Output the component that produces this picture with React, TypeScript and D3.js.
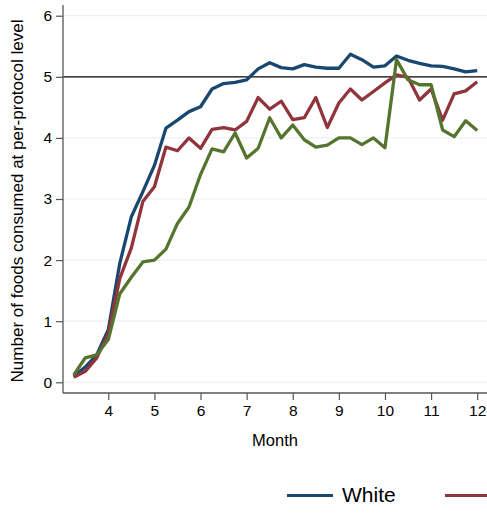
import React, { useEffect, useRef } from 'react';
import * as d3 from 'd3';

const months = [
  3.25, 3.5, 3.75, 4, 4.25, 4.5, 4.75, 5, 5.25, 5.5, 5.75, 6,
  6.25, 6.5, 6.75, 7, 7.25, 7.5, 7.75, 8, 8.25, 8.5, 8.75, 9,
  9.25, 9.5, 9.75, 10, 10.25, 10.5, 10.75, 11, 11.25, 11.5, 11.75, 12,
];

const white = [
  0.1, 0.25, 0.45, 0.86, 1.95, 2.71, 3.12, 3.55, 4.16, 4.29, 4.43, 4.51,
  4.8, 4.89, 4.91, 4.95, 5.13, 5.23, 5.15, 5.13, 5.2, 5.16, 5.14, 5.14,
  5.37, 5.28, 5.16, 5.18, 5.34, 5.27, 5.22, 5.18, 5.17, 5.13, 5.08, 5.1,
];

const red = [
  0.08, 0.18, 0.4, 0.8, 1.7, 2.2, 2.96, 3.2, 3.85, 3.79, 4.0, 3.83,
  4.14, 4.17, 4.13, 4.27, 4.66, 4.47, 4.6, 4.3, 4.33, 4.66, 4.17, 4.57,
  4.8, 4.62, 4.76, 4.9, 5.03, 4.99, 4.62, 4.8, 4.29, 4.72, 4.77, 4.92,
];

const green = [
  0.12, 0.4, 0.45, 0.7, 1.45, 1.72, 1.97, 2.0, 2.18, 2.6, 2.87, 3.4,
  3.82, 3.77, 4.08, 3.67, 3.83, 4.33, 4.0, 4.21, 3.97, 3.85, 3.88, 4.0,
  4.0, 3.89, 4.0, 3.84, 5.28, 4.95, 4.87, 4.87, 4.13, 4.02, 4.28, 4.12,
];

const xTicks = [4, 5, 6, 7, 8, 9, 10, 11, 12];
const yTicks = [0, 1, 2, 3, 4, 5, 6];
const refLine = 5;
const legendLabels = ['White', ''];

const font = 'Arial, "Liberation Sans", sans-serif';

export default function App() {
  const svgRef = useRef<SVGSVGElement | null>(null);

  useEffect(() => {
    if (!svgRef.current) return;
    const svg = d3.select(svgRef.current);
    svg.selectAll('*').remove();

    const width = 487;
    const height = 515;
    const plotLeft = 63;
    const plotBottom = 393;
    const plotTop = 5;

    const x = d3.scaleLinear().domain([4, 12]).range([108.3, 477.2]);
    const y = d3.scaleLinear().domain([0, 6]).range([382.3, 15.7]);

    svg.append('rect').attr('width', width).attr('height', height).attr('fill', '#fff');

    // grid
    svg.append('g')
      .selectAll('line')
      .data(yTicks.filter(t => t !== refLine))
      .enter().append('line')
      .attr('x1', plotLeft + 1).attr('x2', width)
      .attr('y1', d => y(d)).attr('y2', d => y(d))
      .attr('stroke', '#eaf2f3').attr('stroke-width', 1.2);

    // reference line
    svg.append('line')
      .attr('x1', plotLeft).attr('x2', width)
      .attr('y1', y(refLine)).attr('y2', y(refLine))
      .attr('stroke', '#000').attr('stroke-width', 1.3);

    const series = [
      { values: white, color: '#1a476f' },
      { values: red, color: '#90353b' },
      { values: green, color: '#55752f' },
    ];

    const line = d3.line<number>()
      .x((_, i) => x(months[i]))
      .y(d => y(d));

    series.forEach(s => {
      svg.append('path')
        .datum(s.values)
        .attr('d', line)
        .attr('fill', 'none')
        .attr('stroke', s.color)
        .attr('stroke-width', 3.3)
        .attr('stroke-linejoin', 'round');
    });

    // y axis
    const yAxis = svg.append('g')
      .attr('transform', `translate(${plotLeft},0)`)
      .call(d3.axisLeft(y).tickValues(yTicks).tickFormat(d3.format('d')).tickSize(7).tickSizeOuter(0).tickPadding(4));
    yAxis.select('.domain').attr('d', `M0,${plotTop}V${plotBottom}`);

    // x axis
    const xAxis = svg.append('g')
      .attr('transform', `translate(0,${plotBottom})`)
      .call(d3.axisBottom(x).tickValues(xTicks).tickFormat(d3.format('d')).tickSize(7).tickSizeOuter(0).tickPadding(5));
    xAxis.select('.domain').attr('d', `M${plotLeft},0H${width}`);

    [yAxis, xAxis].forEach(a => {
      a.selectAll('.domain').attr('stroke', '#555').attr('stroke-width', 1.3);
      a.selectAll('.tick line').attr('stroke', '#555').attr('stroke-width', 1.2);
      a.selectAll('.tick text')
        .attr('fill', '#000')
        .style('font-family', font)
        .style('font-size', '15.5px');
    });

    svg.append('text')
      .attr('x', 275).attr('y', 446)
      .attr('text-anchor', 'middle')
      .style('font-family', font).style('font-size', '16.5px')
      .text('Month');

    svg.append('text')
      .attr('transform', `translate(23,201) rotate(-90)`)
      .attr('text-anchor', 'middle')
      .style('font-family', font).style('font-size', '17px')
      .text('Number of foods consumed at per-protocol level');

    // legend
    const legendY = 495.5;
    const legendX = [287, 445];
    legendLabels.forEach((label, i) => {
      svg.append('line')
        .attr('x1', legendX[i]).attr('x2', legendX[i] + 46)
        .attr('y1', legendY).attr('y2', legendY)
        .attr('stroke', series[i].color).attr('stroke-width', 3);
      if (label) {
        svg.append('text')
          .attr('x', legendX[i] + 55).attr('y', 502)
          .style('font-family', font).style('font-size', '21px')
          .text(label);
      }
    });
  }, []);

  return (
    <svg ref={svgRef} width={487} height={515}
      style={{ position: 'absolute', left: 0, top: 0 }} />
  );
}
